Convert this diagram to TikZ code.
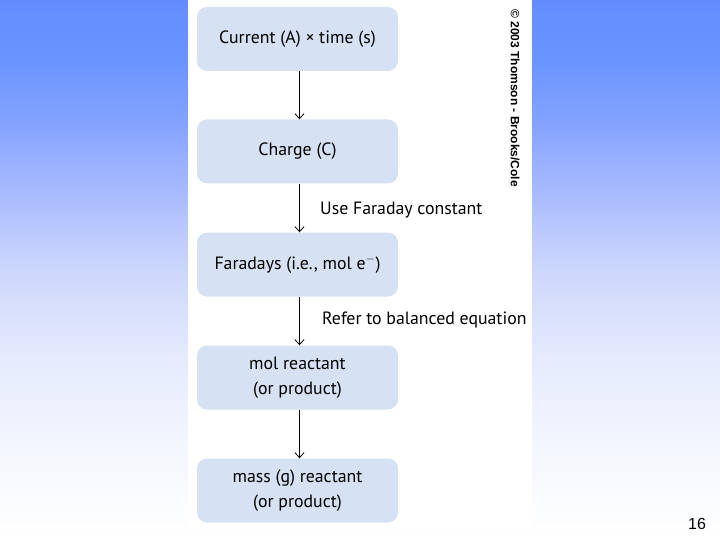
\documentclass[tikz,border=0pt]{standalone}
\usepackage{fontspec}
\setmainfont{PT Sans}
\newfontfamily\arialf{Liberation Sans}
\usetikzlibrary{arrows.meta}
\definecolor{boxfill}{RGB}{214,226,243}
\definecolor{bgA}{RGB}{100,140,255}
\definecolor{bgB}{RGB}{106,148,255}
\definecolor{bgC}{RGB}{130,162,255}
\definecolor{bgD}{RGB}{162,182,255}
\definecolor{bgE}{RGB}{205,215,252}
\definecolor{bgF}{RGB}{230,235,253}
\definecolor{bgG}{RGB}{245,247,254}
\pgfdeclareverticalshading{slidebg}{100bp}{color(0bp)=(white); color(25bp)=(white); color(33.33bp)=(bgG); color(41.67bp)=(bgF); color(50bp)=(bgE); color(58.33bp)=(bgD); color(63.89bp)=(bgC); color(69.44bp)=(bgB); color(75bp)=(bgA); color(100bp)=(bgA)}
\begin{document}
\begin{tikzpicture}[x=1pt,y=-1pt,
  box/.style={rectangle, rounded corners=10pt, fill=boxfill, minimum width=201pt, minimum height=64pt, align=center, font=\fontsize{17.8}{25}\selectfont, inner sep=0pt},
  lbl/.style={anchor=west, font=\fontsize{17.8}{20}\selectfont, inner sep=0pt},
  arr/.style={line width=0.8pt, -{Straight Barb[length=5pt,width=9pt]}}]
\useasboundingbox (0,0) rectangle (720,540);
\shade[shading=slidebg] (0,0) rectangle (720,540);
\fill[white] (188,0) rectangle (532,527);
\node[box] (b1) at (297.5,39) {Current (A) × time (s)};
\node[box] (b2) at (297.5,151.5) {Charge (C)};
\node[box] (b3) at (297.5,264.5) {Faradays (i.e., mol e$^{-}$)};
\node[box] (b4) at (297.5,377.5) {mol reactant\\(or product)};
\node[box] (b5) at (297.5,490.5) {mass (g) reactant\\(or product)};
\draw[arr] ([xshift=2pt]b1.south) -- ([xshift=2pt]b2.north);
\draw[arr] ([xshift=2pt]b2.south) -- ([xshift=2pt]b3.north);
\draw[arr] ([xshift=2pt]b3.south) -- ([xshift=2pt]b4.north);
\draw[arr] ([xshift=2pt]b4.south) -- ([xshift=2pt]b5.north);
\node[lbl] (l1) at (320,210) {Use Faraday constant};
\node[lbl] (l2) at (322,320) {Refer to balanced equation};
\node[rotate=-90, anchor=west, inner sep=0pt, font=\arialf\bfseries\fontsize{12}{14}\selectfont] (cr) at (515,9) {© 2003 Thomson - Brooks/Cole};
\node[font=\arialf\fontsize{16}{18}\selectfont, inner sep=0pt] (pg) at (697,524) {16};
\end{tikzpicture}
\end{document}
